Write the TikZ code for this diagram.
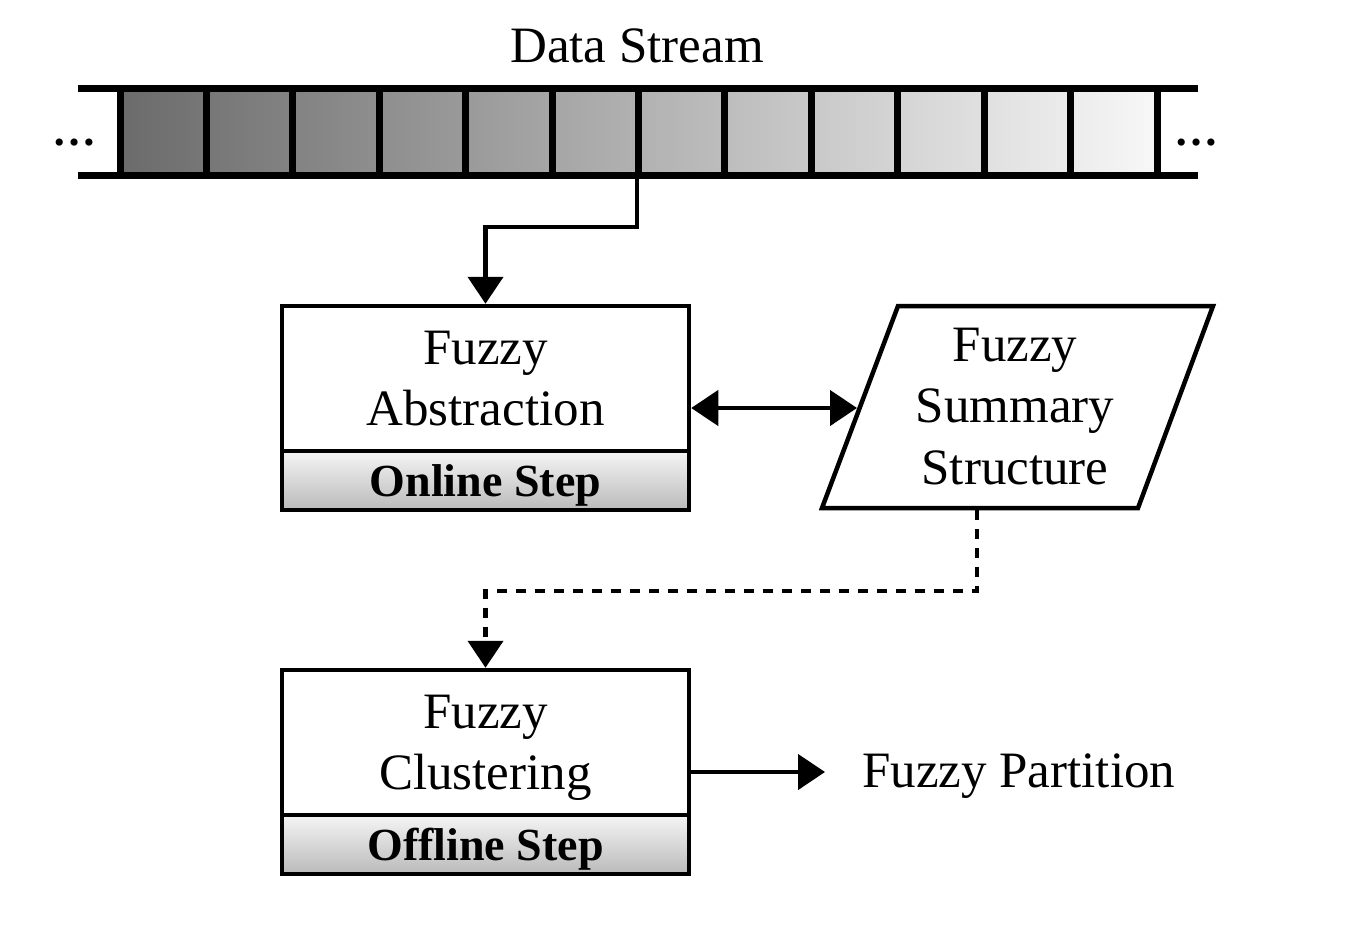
\documentclass[tikz,border=0pt]{standalone}
\usepackage{fontspec}
\setmainfont{Liberation Serif}
\usetikzlibrary{arrows.meta,calc}
\begin{document}
\begin{tikzpicture}[x=1pt,y=-1pt,
  box/.style={draw,line width=4.5pt,minimum width=407pt,inner sep=0pt,align=center},
  mainbox/.style={box,minimum height=145pt,font=\fontsize{51}{61.5}\selectfont,text depth=0pt},
  stepbar/.style={box,minimum height=59pt,top color=black!4,bottom color=black!27,font=\fontsize{46}{50}\selectfont\bfseries,text height=40pt,text depth=8pt},
  arr/.style={line width=4.5pt,-{Triangle[length=27pt,width=35pt]}},
  dblarr/.style={line width=4.5pt,{Triangle[length=27pt,width=35pt]}-{Triangle[length=27pt,width=35pt]}},
  lbl/.style={font=\fontsize{51}{61.5}\selectfont,inner sep=0pt},
  dots/.style={font=\fontsize{44}{44}\selectfont\bfseries,inner sep=0pt,anchor=base}]
\useasboundingbox (0,0) rectangle (1364,940);
% data stream
\shade[left color=black!58,right color=black!3] (120,88) rectangle (1157,175);
\foreach \k in {0,...,12} \draw[line width=7pt] ({120+86.42*\k},88) -- ({120+86.42*\k},175);
\draw[line width=7pt] (78,88) -- (1198,88);
\draw[line width=7pt] (78,175) -- (1198,175);
\node[dots] (dl) at (74.5,145) {…};
\node[dots] (dr) at (1196.5,145) {…};
\node[lbl,anchor=base] (ds) at (637,62) {Data Stream};
% boxes
\node[mainbox] (absT) at (485.5,378.5) {Fuzzy\\Abstraction};
\node[stepbar] (absS) at (485.5,480.5) {Online Step};
\node[mainbox] (cluT) at (485.5,742.5) {Fuzzy\\Clustering};
\node[stepbar] (cluS) at (485.5,844.5) {Offline Step};
% parallelogram
\draw[line width=4.5pt,line join=miter] (898,306) -- (1213,306) -- (1138,508) -- (822,508) -- cycle;
\node[lbl,align=center,text depth=0pt] (fss) at (1015,406) {Fuzzy\\Summary\\Structure};
\node[lbl,anchor=base west] (fp) at (862,787) {Fuzzy Partition};
% connectors
\coordinate (so) at (637,178);
\coordinate (b1) at (637,227);
\draw[arr] (so) -- (b1) -| (absT.north);
\coordinate (fssL) at (857,408);
\draw[dblarr] (absT.east |- fssL) -- (fssL);
\coordinate (fssB) at (977,510);
\coordinate (b2) at (977,591);
\draw[arr,dash pattern=on 10pt off 9pt] (fssB) -- (b2) -| (cluT.north);
\coordinate (fpL) at (825,772);
\draw[arr] (cluT.east |- fpL) -- (fpL);
\end{tikzpicture}
\end{document}
